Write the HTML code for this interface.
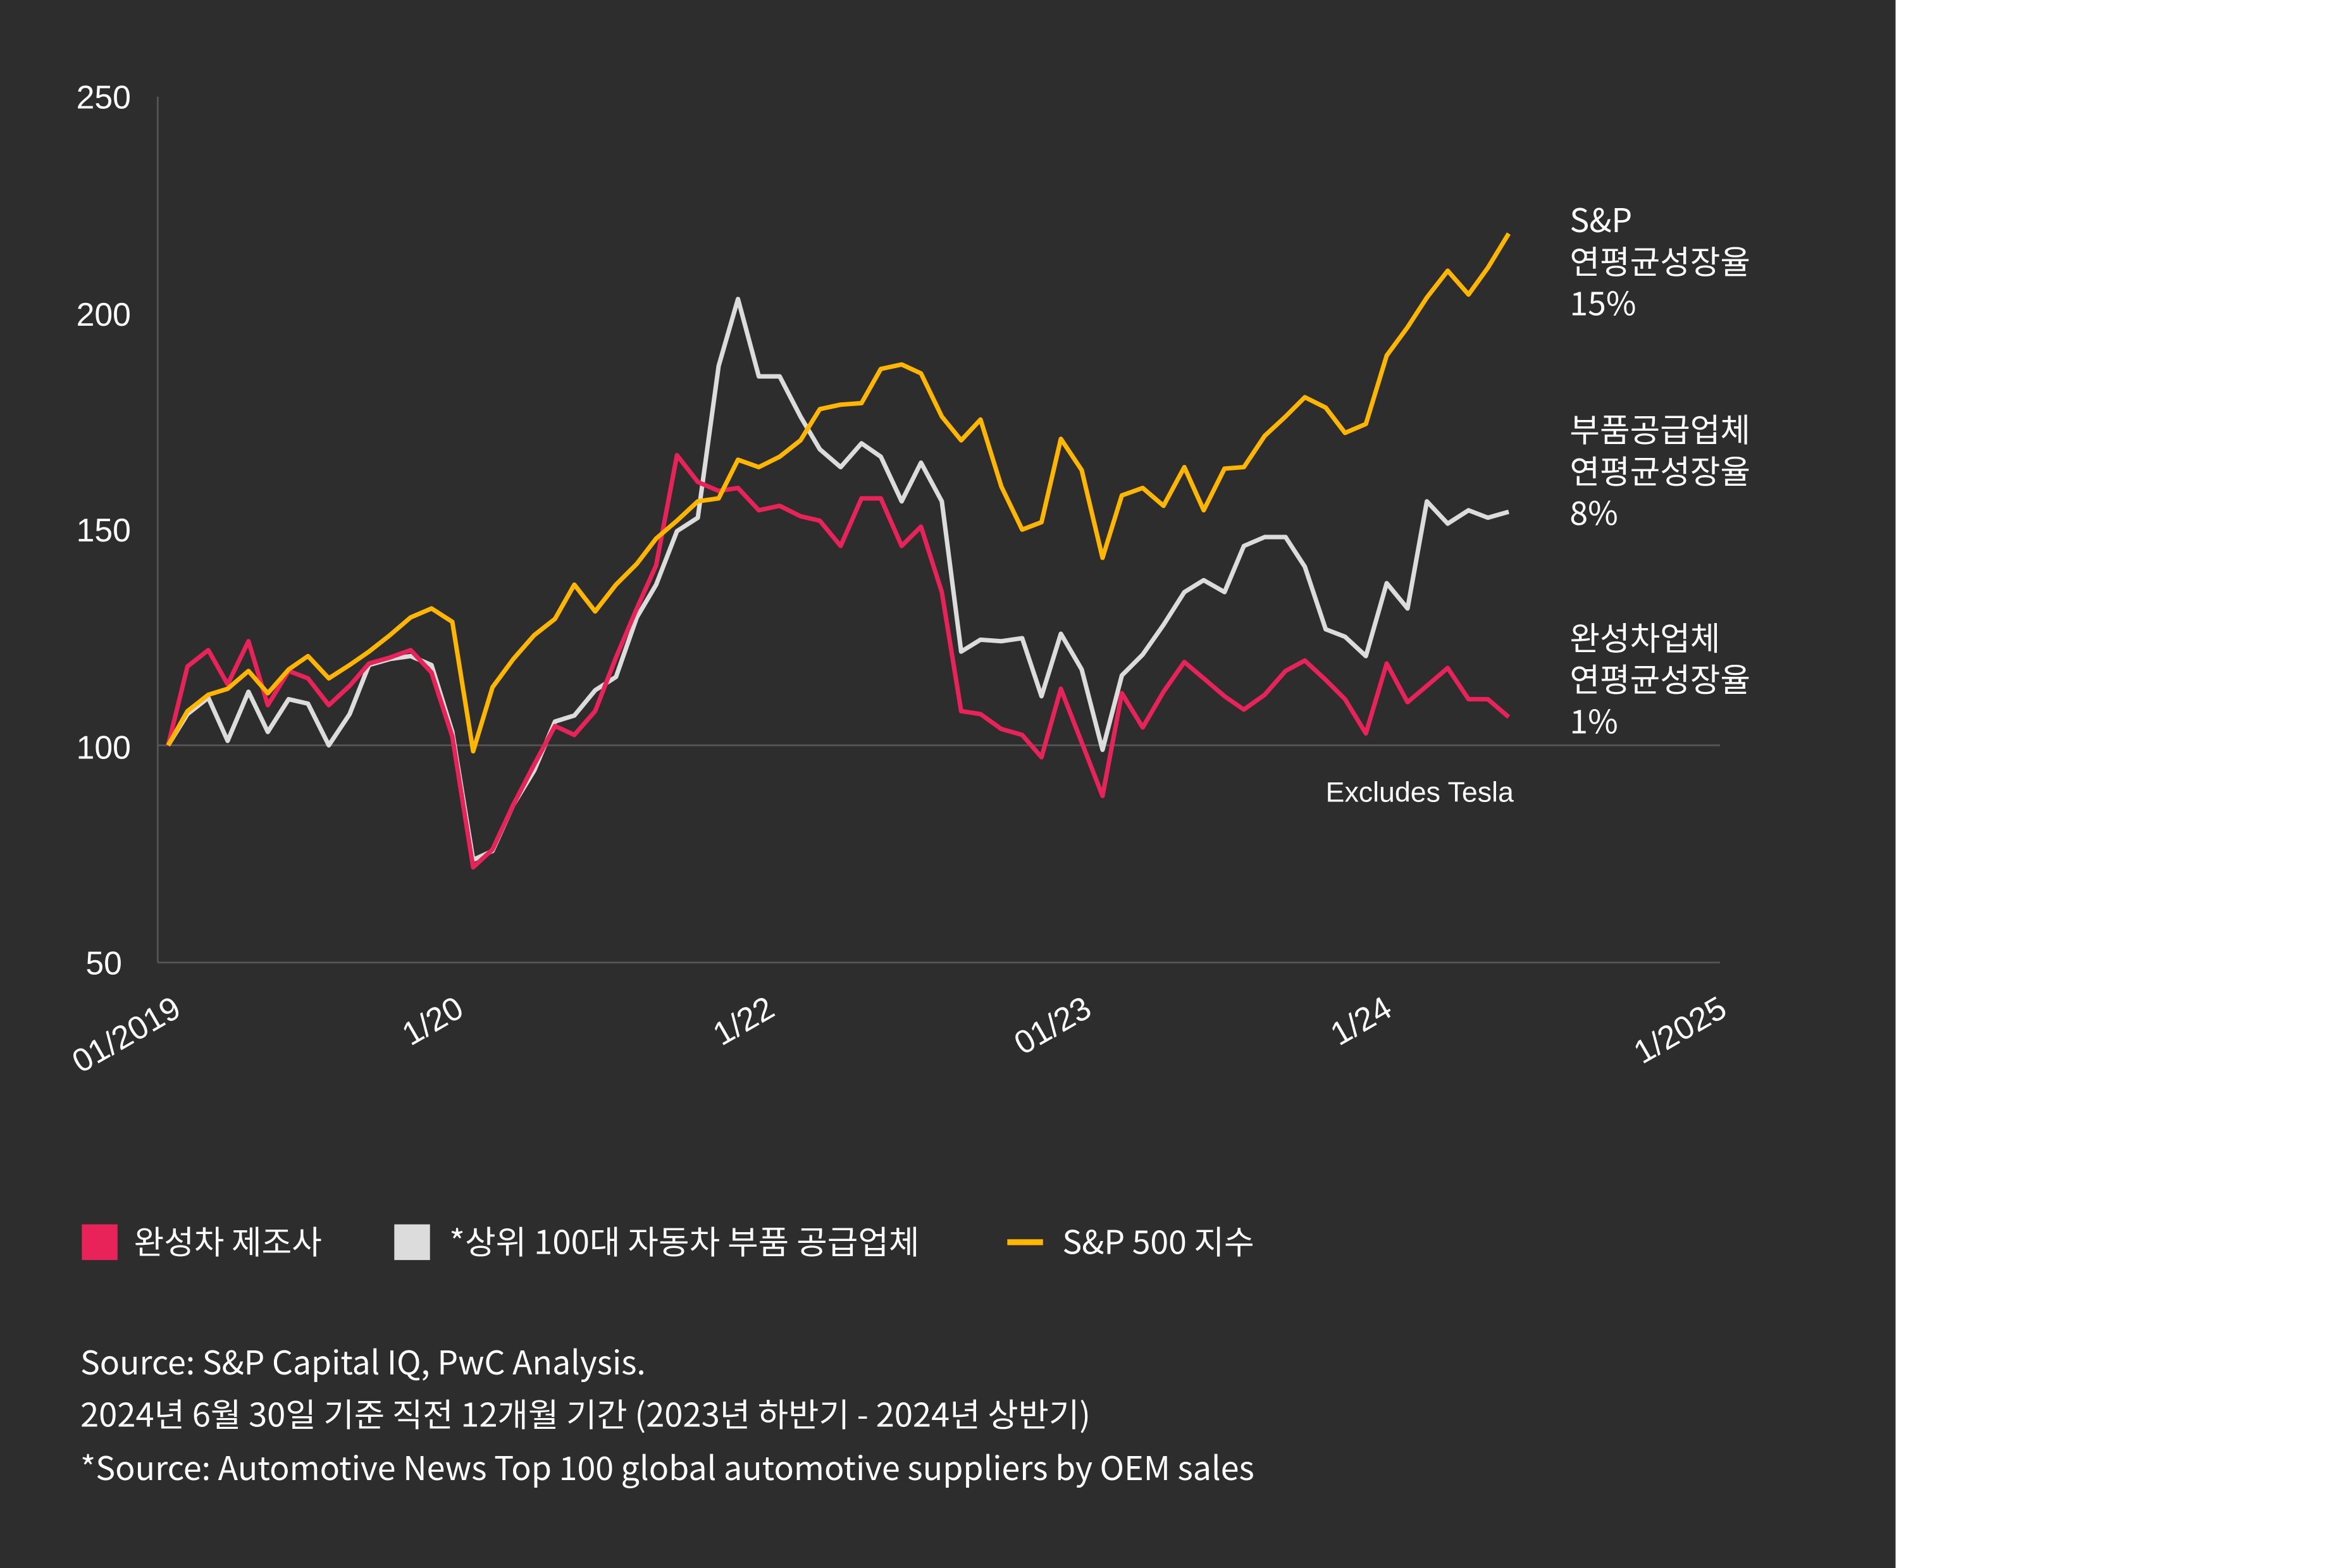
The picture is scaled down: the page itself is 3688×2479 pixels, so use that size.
<!DOCTYPE html>
<html><head><meta charset="utf-8">
<style>
html,body{margin:0;padding:0;background:#fff;}
svg{display:block;}
text{font-family:"Liberation Sans","Noto Sans CJK KR",sans-serif;}
.k{font-family:"Noto Sans CJK KR","Liberation Sans",sans-serif;}
</style></head>
<body>
<svg width="3688" height="2479" viewBox="0 0 1568 1054" preserveAspectRatio="none" xmlns="http://www.w3.org/2000/svg">
<rect x="0" y="0" width="1568" height="1054" fill="#fff"/>
<rect x="0" y="0" width="1274" height="1054" fill="#2d2d2d"/>
<g stroke="#555" stroke-width="1.2" fill="none">
<line x1="106" y1="65" x2="106" y2="647"/>
<line x1="106" y1="647" x2="1156" y2="647"/>
<line x1="106" y1="501" x2="1156" y2="501"/>
</g>
<g fill="#fff" font-size="22" text-anchor="end">
<text x="88" y="73">250</text>
<text x="88" y="219">200</text>
<text x="88" y="364">150</text>
<text x="88" y="510">100</text>
<text x="82" y="655">50</text>
</g>
<g fill="#fff" font-size="22" text-anchor="end">
<text transform="translate(123,682) rotate(-30)">01/2019</text>
<text transform="translate(313,682) rotate(-30)">1/20</text>
<text transform="translate(522,682) rotate(-30)">1/22</text>
<text transform="translate(735,682) rotate(-30)">01/23</text>
<text transform="translate(937,682) rotate(-30)">1/24</text>
<text transform="translate(1162,682) rotate(-30)">1/2025</text>
</g>
<polyline fill="none" stroke="#dcdcdc" stroke-width="3" stroke-linejoin="round" points="113,501 126,480 140,469 153,498 167,465 180,492 194,470 207,473 221,501 235,480 248,447 262,443 276,441 290,447 304,492 318,578 331,572 345,541 359,518 373,485 386,481 400,464 414,455 428,415 441,393 455,357 469,348 483,246 496,201 510,253 524,253 538,280 551,302 565,314 579,298 592,307 606,337 619,311 633,337 646,438 659,430 673,431 687,429 700,468 713,426 727,450 741,504 754,454 768,440 782,420 796,398 809,390 823,398 836,367 850,361 864,361 877,381 891,423 904,428 918,441 932,392 946,409 959,337 973,352 987,343 1000,348 1014,344"/>
<polyline fill="none" stroke="#e8235a" stroke-width="3" stroke-linejoin="round" points="113,501 126,448 140,437 153,460 167,431 180,474 194,451 207,456 221,474 235,461 248,446 262,442 276,437 290,452 304,495 318,583 331,571 345,541 359,514 373,488 386,494 400,478 414,442 428,409 441,380 455,306 469,324 483,330 496,328 510,343 524,340 538,347 551,350 565,367 579,335 592,335 606,367 619,354 633,398 646,478 659,480 673,490 687,494 700,509 713,463 727,499 741,535 754,466 768,489 782,465 796,445 809,456 823,468 836,477 850,467 864,451 877,444 891,457 904,470 918,493 932,446 946,472 959,461 973,449 987,470 1000,470 1014,482"/>
<polyline fill="none" stroke="#ffb600" stroke-width="3" stroke-linejoin="round" points="113,501 126,478 140,467 153,463 167,451 180,466 194,450 207,441 221,456 235,447 248,438 262,427 276,415 290,409 304,418 318,505 331,462 345,443 359,427 373,416 386,393 400,411 414,393 428,379 441,362 455,350 469,337 483,335 496,309 510,314 524,307 538,296 551,275 565,272 579,271 592,248 606,245 619,251 633,280 646,296 659,282 673,327 687,356 700,351 713,295 727,316 741,375 754,333 768,328 782,340 796,314 809,343 823,315 836,314 850,293 864,280 877,267 891,274 904,291 918,285 932,239 946,220 959,200 973,182 987,198 1000,180 1014,157"/>
<g fill="#fff" font-size="22" class="k">
<text x="1055" y="156" class="k">S&amp;P</text>
<text x="1055" y="184" class="k">연평균성장율</text>
<text x="1055" y="212" class="k">15%</text>
<text x="1055" y="297" class="k">부품공급업체</text>
<text x="1055" y="325" class="k">연평균성장율</text>
<text x="1055" y="353" class="k">8%</text>
<text x="1055" y="437" class="k">완성차업체</text>
<text x="1055" y="465" class="k">연평균성장율</text>
<text x="1055" y="493" class="k">1%</text>
</g>
<text x="891" y="539" font-size="19" fill="#fff">Excludes Tesla</text>
<rect x="55" y="823" width="24" height="24" fill="#e8235a"/>
<rect x="265" y="823" width="24" height="24" fill="#dcdcdc"/>
<rect x="677" y="833" width="24" height="4" fill="#ffb600"/>
<g fill="#fff" font-size="22">
<text x="90" y="843" class="k">완성차 제조사</text>
<text x="302" y="843" class="k" textLength="316" lengthAdjust="spacingAndGlyphs">*상위 100대 자동차 부품 공급업체</text>
<text x="714" y="843" class="k">S&amp;P 500 지수</text>
</g>
<g fill="#fff" font-size="22">
<text x="54" y="924" class="k" textLength="380" lengthAdjust="spacingAndGlyphs">Source: S&amp;P Capital IQ, PwC Analysis.</text>
<text x="54" y="959" class="k" textLength="679" lengthAdjust="spacingAndGlyphs">2024년 6월 30일 기준 직전 12개월 기간 (2023년 하반기 - 2024년 상반기)</text>
<text x="54" y="995" class="k" textLength="789" lengthAdjust="spacingAndGlyphs">*Source: Automotive News Top 100 global automotive suppliers by OEM sales</text>
</g>
</svg>
</body></html>
